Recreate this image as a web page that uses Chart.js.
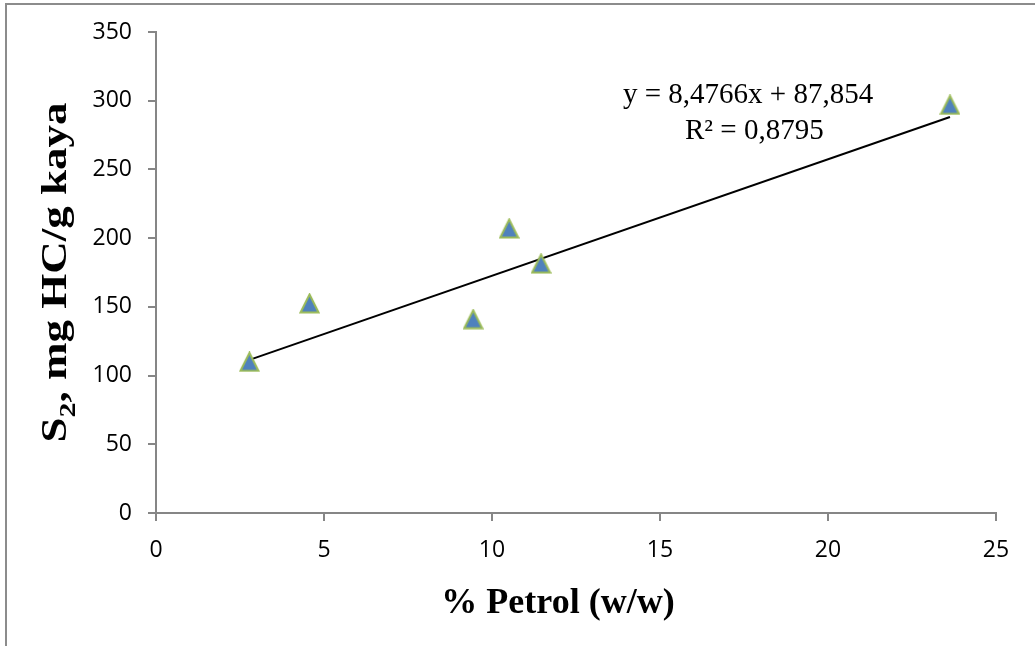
<!DOCTYPE html>
<html>
<head>
<meta charset="utf-8">
<script src="https://cdn.jsdelivr.net/npm/chart.js@4/dist/chart.umd.min.js"></script>
<style>
  html, body { margin: 0; padding: 0; background: #ffffff; }
  #wrap { position: relative; width: 1035px; height: 646px; overflow: hidden; }
  #frame { position: absolute; left: 5px; top: 3px; width: 1100px; height: 700px;
           border-left: 2px solid #8c8c8c; border-top: 2px solid #8c8c8c; }
  canvas { position: absolute; left: 0; top: 0; }
</style>
</head>
<body>
<div id="wrap">
  <div id="frame"></div>
  <canvas id="c" width="1035" height="646"></canvas>
</div>
<script>
// Petrol content (% w/w) and S2 pyrolysis yield (mg HC / g rock) per sample
const petrolPct = [2.78, 4.57, 9.44, 10.51, 11.46, 23.63];
const s2Values  = [110, 152.5, 141, 207, 181.5, 297];

// Linear trendline reported for the samples
const trendSlope = 8.4766;
const trendIntercept = 87.854;
const eqLabel = 'y = 8,4766x + 87,854';
const r2Label = 'R\u00B2 = 0,8795';

// Axis ranges and tick steps
const xRange = [0, 25];
const xStep = 5;
const yRange = [0, 350];
const yStep = 50;

// Axis titles
const xTitle = '% Petrol (w/w)';
const yTitleMain = 'S';
const yTitleSub = '2';
const yTitleRest = ', mg HC/g kaya';

const axisGray = '#868686';
const tickFont = { family: '"Open Sans", sans-serif', size: 23 };

// Triangle marker: blue fill with green outline
function makeTriangle() {
  const cv = document.createElement('canvas');
  cv.width = 21; cv.height = 21;
  const g = cv.getContext('2d');
  g.beginPath();
  g.moveTo(10.5, 1.5);
  g.lineTo(19.5, 19.5);
  g.lineTo(1.5, 19.5);
  g.closePath();
  g.fillStyle = '#4f81bd';
  g.fill();
  g.lineWidth = 2;
  g.lineJoin = 'miter';
  g.strokeStyle = '#9bbb59';
  g.stroke();
  return cv;
}

const points = petrolPct.map((x, i) => ({ x: x, y: s2Values[i] }));
const xMin = Math.min(...petrolPct);
const xMax = Math.max(...petrolPct);
const trendPoints = [
  { x: xMin, y: trendSlope * xMin + trendIntercept },
  { x: xMax, y: trendSlope * xMax + trendIntercept }
];

// Axis titles and the trendline equation drawn on the canvas
const annotations = {
  id: 'annotations',
  afterDraw(chart) {
    const ctx = chart.ctx;
    ctx.save();
    ctx.fillStyle = '#000';
    ctx.textBaseline = 'alphabetic';

    // x-axis title
    ctx.font = 'bold 36px "Liberation Serif", serif';
    ctx.textAlign = 'center';
    ctx.fillText(xTitle, 558, 613);

    // y-axis title with subscript, rotated and drawn a little elongated
    ctx.save();
    ctx.translate(66, 272.5);
    ctx.rotate(-Math.PI / 2);
    ctx.scale(1.25, 1);
    ctx.textAlign = 'left';
    const mainFont = 'bold 36px "Liberation Serif", serif';
    const subFont = 'bold 24px "Liberation Serif", serif';
    ctx.font = mainFont;
    const wMain = ctx.measureText(yTitleMain).width;
    const wRest = ctx.measureText(yTitleRest).width;
    ctx.font = subFont;
    const wSub = ctx.measureText(yTitleSub).width;
    let x0 = -(wMain + wSub + wRest) / 2;
    ctx.font = mainFont;
    ctx.fillText(yTitleMain, x0, 0);
    ctx.font = subFont;
    ctx.fillText(yTitleSub, x0 + wMain, 9);
    ctx.font = mainFont;
    ctx.fillText(yTitleRest, x0 + wMain + wSub, 0);
    ctx.restore();

    // trendline equation
    ctx.font = '29px "Liberation Serif", serif';
    ctx.textAlign = 'left';
    ctx.fillText(eqLabel, 623, 103);
    ctx.fillText(r2Label, 685, 139);
    ctx.restore();
  }
};

new Chart(document.getElementById('c'), {
  type: 'scatter',
  data: {
    datasets: [
      {
        label: 'S2',
        data: points,
        pointStyle: makeTriangle(),
        pointRadius: 10,
        pointHoverRadius: 10,
        showLine: false,
        order: 1
      },
      {
        label: 'trend',
        type: 'line',
        data: trendPoints,
        borderColor: '#000000',
        borderWidth: 2,
        pointRadius: 0,
        fill: false,
        order: 2
      }
    ]
  },
  options: {
    responsive: false,
    animation: false,
    devicePixelRatio: 1,
    layout: { padding: { top: 32, right: 39, left: 0, bottom: 0 } },
    plugins: { legend: { display: false }, tooltip: { enabled: false } },
    scales: {
      x: {
        type: 'linear',
        position: 'bottom',
        min: xRange[0],
        max: xRange[1],
        afterFit(s) { s.height = 133; },
        ticks: { stepSize: xStep, color: '#000', font: tickFont, padding: 16, maxRotation: 0 },
        grid: { drawOnChartArea: false, color: axisGray, lineWidth: 2, tickLength: 8 },
        border: { color: axisGray, width: 2 }
      },
      y: {
        type: 'linear',
        min: yRange[0],
        max: yRange[1],
        afterFit(s) { s.width = 156; },
        ticks: { stepSize: yStep, color: '#000', font: tickFont, padding: 16 },
        grid: { drawOnChartArea: false, color: axisGray, lineWidth: 2, tickLength: 8 },
        border: { color: axisGray, width: 2 }
      }
    }
  },
  plugins: [annotations]
});
</script>
</body>
</html>
